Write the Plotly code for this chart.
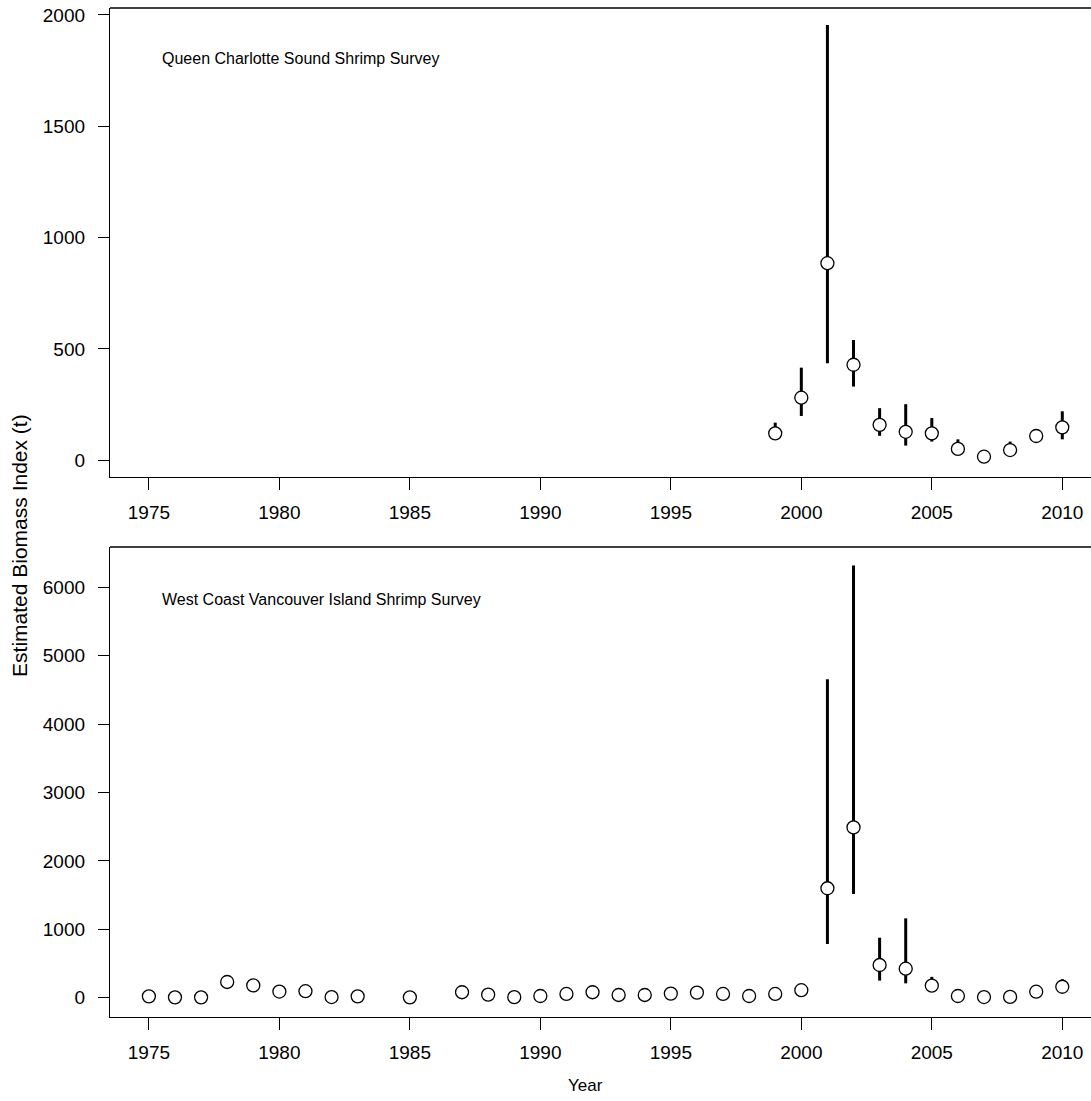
import plotly.graph_objects as go

# Queen Charlotte Sound survey: estimate with lower / upper bounds
qcs_years = [1999, 2000, 2001, 2002, 2003, 2004, 2005, 2006, 2007, 2008, 2009, 2010]
qcs_index = [121, 281, 885, 429, 159, 128, 121, 51, 16, 46, 109, 148]
qcs_lower = [95, 199, 436, 331, 110, 66, 84, 28, 5, 22, 88, 94]
qcs_upper = [169, 416, 1955, 540, 234, 252, 190, 94, 30, 84, 132, 220]

# West Coast Vancouver Island survey
wcvi_years = [1975, 1976, 1977, 1978, 1979, 1980, 1981, 1982, 1983, 1985,
              1987, 1988, 1989, 1990, 1991, 1992, 1993, 1994, 1995, 1996,
              1997, 1998, 1999, 2000, 2001, 2002, 2003, 2004, 2005, 2006,
              2007, 2008, 2009, 2010]
wcvi_index = [20, 5, 5, 230, 180, 90, 95, 10, 20, 5,
              80, 45, 8, 25, 55, 80, 40, 40, 60, 75,
              55, 25, 55, 110, 1600, 2490, 478, 424, 176, 25,
              10, 12, 88, 160]
wcvi_lower = [5, 0, 0, 170, 130, 55, 60, 2, 8, 0,
              50, 25, 2, 12, 30, 40, 20, 22, 35, 45,
              30, 12, 30, 70, 785, 1516, 250, 210, 120, 10,
              2, 3, 55, 110]
wcvi_upper = [45, 20, 20, 300, 240, 130, 135, 25, 40, 15,
              120, 70, 18, 45, 90, 175, 65, 62, 95, 115,
              90, 45, 95, 160, 4655, 6320, 877, 1160, 305, 50,
              25, 30, 130, 270]

year_ticks = [1975, 1980, 1985, 1990, 1995, 2000, 2005, 2010]
qcs_ticks = [0, 500, 1000, 1500, 2000]
wcvi_ticks = [0, 1000, 2000, 3000, 4000, 5000, 6000]

FONT = "Liberation Sans, Arial, sans-serif"


def survey_trace(years, idx, lo, hi, xa, ya):
    return go.Scatter(
        x=years, y=idx, xaxis=xa, yaxis=ya, mode="markers",
        marker=dict(symbol="circle", size=13, color="white",
                    line=dict(color="black", width=1.3)),
        error_y=dict(type="data", symmetric=False,
                     array=[h - v for h, v in zip(hi, idx)],
                     arrayminus=[v - l for v, l in zip(idx, lo)],
                     color="black", thickness=3, width=0),
        showlegend=False, hoverinfo="x+y",
    )


fig = go.Figure()
fig.add_trace(survey_trace(qcs_years, qcs_index, qcs_lower, qcs_upper, "x", "y"))
fig.add_trace(survey_trace(wcvi_years, wcvi_index, wcvi_lower, wcvi_upper, "x2", "y2"))

xcommon = dict(range=[1973.51, 2011.10], tickvals=year_ticks,
               ticks="outside", ticklen=12, tickwidth=1.2, tickcolor="black",
               showline=True, linecolor="black", linewidth=1.3,
               showgrid=False, zeroline=False,
               tickfont=dict(family=FONT, size=19, color="black"),
               ticklabelstandoff=6)
ycommon = dict(ticks="outside", ticklen=11, tickwidth=1.2, tickcolor="black",
               showline=True, linecolor="black", linewidth=1.3,
               showgrid=False, zeroline=False,
               tickfont=dict(family=FONT, size=19, color="black"),
               ticklabelstandoff=9)

fig.update_layout(
    width=1091, height=1101,
    margin=dict(l=110, r=0, t=8, b=84),
    paper_bgcolor="white", plot_bgcolor="white",
    xaxis=dict(domain=[0, 1], anchor="y", **xcommon),
    yaxis=dict(domain=[0.5352, 1], anchor="x", range=[-75, 2031],
               tickvals=qcs_ticks, **ycommon),
    xaxis2=dict(domain=[0, 1], anchor="y2", **xcommon),
    yaxis2=dict(domain=[0, 0.4658], anchor="x2", range=[-282, 6589],
                tickvals=wcvi_ticks, **ycommon),
    shapes=[
        dict(type="line", xref="x domain", yref="y domain", x0=0, x1=1, y0=1, y1=1,
             line=dict(color="black", width=1.3)),
        dict(type="line", xref="x2 domain", yref="y2 domain", x0=0, x1=1, y0=1, y1=1,
             line=dict(color="black", width=1.3)),
    ],
    annotations=[
        dict(text="Queen Charlotte Sound Shrimp Survey", xref="paper", yref="paper",
             x=0.051, y=0.9504, xanchor="left", yanchor="middle", showarrow=False,
             font=dict(family=FONT, size=16, color="black")),
        dict(text="West Coast Vancouver Island Shrimp Survey", xref="paper", yref="paper",
             x=0.051, y=0.4133, xanchor="left", yanchor="middle", showarrow=False,
             font=dict(family=FONT, size=16, color="black")),
        dict(text="Estimated Biomass Index (t)", xref="paper", yref="paper",
             x=-0.0918, y=0.4678, xanchor="center", yanchor="middle", textangle=-90,
             showarrow=False, font=dict(family=FONT, size=21, color="black")),
        dict(text="Year", xref="paper", yref="paper",
             x=0.4852, y=-0.0674, xanchor="center", yanchor="middle",
             showarrow=False, font=dict(family=FONT, size=17, color="black")),
    ],
)

fig.write_html("out.html")
